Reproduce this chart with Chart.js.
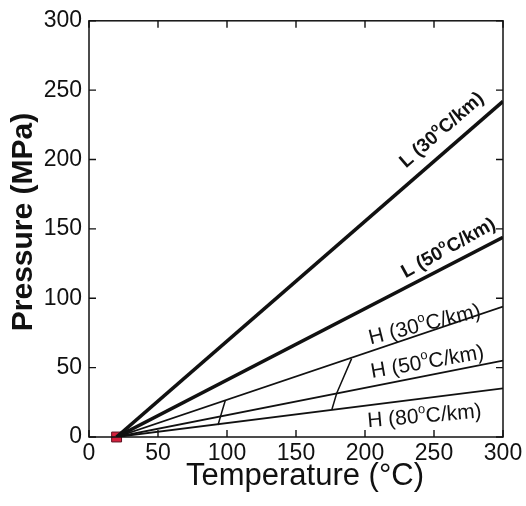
<!DOCTYPE html>
<html><head><meta charset="utf-8">
<script src="https://cdn.jsdelivr.net/npm/chart.js@4"></script>
<style>html,body{margin:0;padding:0;background:#fff}#wrap{width:526px;height:506px}</style>
</head><body><div id="wrap"><canvas id="c" width="526" height="506"></canvas></div>
<script>
// ---- data ----
const xTicks = [0, 50, 100, 150, 200, 250, 300];
const yTicks = [0, 50, 100, 150, 200, 250, 300];
const xTitle = 'Temperature (°C)';
const yTitle = 'Pressure (MPa)';
const curveLabels = ['L (30°C/km)', 'L (50°C/km)', 'H (30°C/km)', 'H (50°C/km)', 'H (80°C/km)'];
const startT = [20, 20, 20, 20, 20];
const startP = [0, 0, 0, 0, 0];
const endT = [300, 300, 300, 300, 300];
const endP = [242, 144, 94, 55, 35];
const connectorA_T = [93.5, 95.5, 98.8];
const connectorA_P = [8.7, 15.5, 26.5];
const connectorB_T = [176, 179.5, 190.3];
const connectorB_P = [19.8, 31.5, 56.5];
const surfaceT = [20];
const surfaceP = [0];

// ---- styles / placement ----
const curveWidths = [3.6, 3.6, 1.8, 1.8, 1.8];
const labelStyle = [
  {x: 255, y: 222, angle: -41, font: 'bold 19px "Liberation Sans", Arial, sans-serif'},
  {x: 260, y: 137, angle: -29, font: 'bold 19px "Liberation Sans", Arial, sans-serif'},
  {x: 243, y: 82, angle: -14, font: '21px "Liberation Sans", Arial, sans-serif'},
  {x: 245, y: 55, angle: -10, font: '21px "Liberation Sans", Arial, sans-serif'},
  {x: 243, y: 16, angle: -5, font: '21px "Liberation Sans", Arial, sans-serif'}
];
const INK = '#111';
const FONT = '"Liberation Sans", Arial, sans-serif';

const datasets = [];
curveLabels.forEach((lab, i) => {
  datasets.push({
    label: lab,
    data: [{x: startT[i], y: startP[i]}, {x: endT[i], y: endP[i]}],
    showLine: true, borderColor: INK, borderWidth: curveWidths[i],
    pointRadius: 0, fill: false, tension: 0
  });
});
datasets.push({
  label: 'connector A',
  data: connectorA_T.map((t, i) => ({x: t, y: connectorA_P[i]})),
  showLine: true, borderColor: INK, borderWidth: 1.5, pointRadius: 0, tension: 0
});
datasets.push({
  label: 'connector B',
  data: connectorB_T.map((t, i) => ({x: t, y: connectorB_P[i]})),
  showLine: true, borderColor: INK, borderWidth: 1.5, pointRadius: 0, tension: 0
});
datasets.push({
  label: 'surface',
  data: surfaceT.map((t, i) => ({x: t, y: surfaceP[i]})),
  showLine: false, pointStyle: 'rect', pointRadius: 7,
  backgroundColor: '#d4203c', borderColor: '#5a1020', borderWidth: 1, clip: false
});

const framePlugin = {
  id: 'frame',
  afterDatasetsDraw(chart) {
    const {ctx, chartArea: a, scales: {x, y}} = chart;
    ctx.save();
    ctx.strokeStyle = INK;
    ctx.lineWidth = 1.5;
    ctx.strokeRect(a.left, a.top, a.right - a.left, a.bottom - a.top);
    ctx.lineWidth = 1.4;
    const L = 7;
    ctx.beginPath();
    xTicks.forEach(v => {
      const px = x.getPixelForValue(v);
      ctx.moveTo(px, a.bottom); ctx.lineTo(px, a.bottom - L);
      ctx.moveTo(px, a.top); ctx.lineTo(px, a.top + L);
    });
    yTicks.forEach(v => {
      const py = y.getPixelForValue(v);
      ctx.moveTo(a.left, py); ctx.lineTo(a.left + L, py);
      ctx.moveTo(a.right, py); ctx.lineTo(a.right - L, py);
    });
    ctx.stroke();
    // axis titles
    ctx.fillStyle = INK;
    ctx.textAlign = 'center';
    ctx.textBaseline = 'middle';
    ctx.font = '31px ' + FONT;
    ctx.fillText(xTitle, 305, 476);
    ctx.translate(24, 222);
    ctx.rotate(-Math.PI / 2);
    ctx.font = 'bold 30px ' + FONT;
    ctx.fillText(yTitle, 0, 0);
    ctx.restore();
  }
};

const labelPlugin = {
  id: 'curveLabels',
  afterDatasetsDraw(chart) {
    const {ctx, scales: {x, y}} = chart;
    curveLabels.forEach((text, i) => {
      const s = labelStyle[i];
      const parts = text.split('°');
      const px = x.getPixelForValue(s.x), py = y.getPixelForValue(s.y);
      ctx.save();
      ctx.translate(px, py);
      ctx.rotate(s.angle * Math.PI / 180);
      ctx.fillStyle = INK;
      ctx.textBaseline = 'alphabetic';
      ctx.textAlign = 'left';
      const size = parseFloat(s.font.match(/(\d+)px/)[1]);
      const supFont = s.font.replace(/\d+px/, Math.round(size * 0.62) + 'px');
      ctx.font = s.font;
      const w1 = ctx.measureText(parts[0]).width;
      const w3 = ctx.measureText(parts[1]).width;
      ctx.font = supFont;
      const w2 = ctx.measureText('o').width;
      const total = w1 + w2 + w3;
      let cx = -total / 2;
      const base = size * 0.36;
      ctx.font = s.font;
      ctx.fillText(parts[0], cx, base); cx += w1;
      ctx.font = supFont;
      ctx.fillText('o', cx, base - size * 0.45); cx += w2;
      ctx.font = s.font;
      ctx.fillText(parts[1], cx, base);
      ctx.restore();
    });
  }
};

new Chart(document.getElementById('c'), {
  type: 'scatter',
  data: {datasets},
  options: {
    responsive: false, animation: false,
    layout: {padding: {top: 17, right: 23, left: 0, bottom: 0}},
    plugins: {legend: {display: false}, tooltip: {enabled: false}},
    scales: {
      x: {
        type: 'linear', min: 0, max: 300,
        afterBuildTicks: s => { s.ticks = xTicks.map(v => ({value: v})); },
        afterFit: s => { s.height = 69; },
        grid: {display: false, drawTicks: false, tickLength: 0}, border: {display: false},
        ticks: {color: INK, padding: 3, font: {family: FONT, size: 23}, maxRotation: 0, autoSkip: false},
        title: {display: false}
      },
      y: {
        type: 'linear', min: 0, max: 300,
        afterBuildTicks: s => { s.ticks = yTicks.map(v => ({value: v})); },
        afterFit: s => { s.width = 89; },
        grid: {display: false, drawTicks: false, tickLength: 0}, border: {display: false},
        ticks: {color: INK, padding: 7, font: {family: FONT, size: 23}, autoSkip: false},
        title: {display: false}
      }
    }
  },
  plugins: [framePlugin, labelPlugin]
});
</script></body></html>
